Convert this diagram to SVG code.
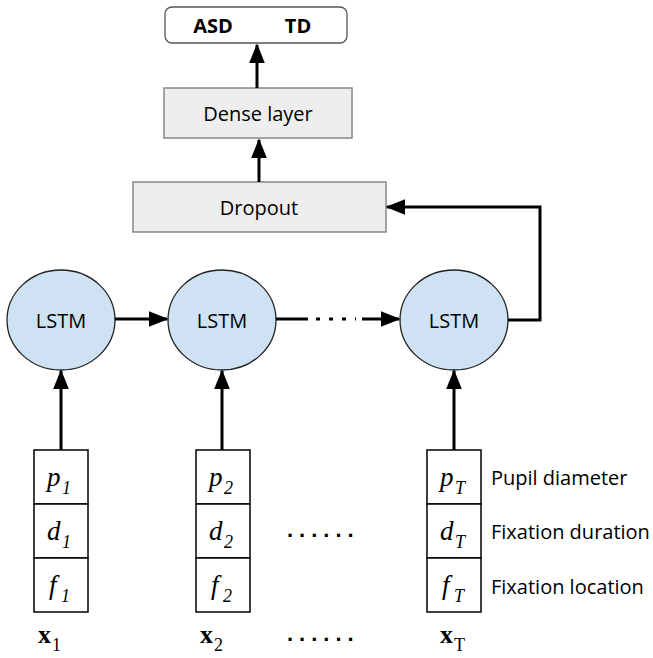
<svg xmlns="http://www.w3.org/2000/svg" width="653" height="658" viewBox="0 0 653 658">
<style>
.lbl{font-family:"Open Sans","Liberation Sans",sans-serif;font-size:20px;fill:#000}
.box{fill:#eeeeee;stroke:#888;stroke-width:1.5}
.lstm{fill:#cfe2f3;stroke:#222;stroke-width:1.3}
.cell{fill:#fff;stroke:#000;stroke-width:1.5}
.math{font-family:"Liberation Serif",serif;font-style:italic;font-size:27px}
.sub{font-family:"Liberation Serif",serif;font-style:italic;font-size:18px}
.xb{font-family:"Liberation Serif",serif;font-weight:bold;font-size:26px}
.xs{font-family:"Liberation Serif",serif;font-size:18px}
.conn{stroke:#000;stroke-width:3;fill:none}
.dots{font-family:"Liberation Sans",sans-serif;font-size:22px;font-weight:bold}
</style>
<defs>
<marker id="ah" markerWidth="7" markerHeight="6" refX="6" refY="3" orient="auto" markerUnits="strokeWidth">
<path d="M0,0.4 L6.5,3 L0,5.6 Z" fill="#000"/>
</marker>
</defs>
<g id="output">
<rect x="165" y="7" width="182" height="36" rx="7" fill="#fff" stroke="#555" stroke-width="1.3"/>
<text x="213" y="33" text-anchor="middle" class="lbl" font-weight="bold">ASD</text>
<text x="298" y="33" text-anchor="middle" class="lbl" font-weight="bold">TD</text>
</g>
<g id="dense">
<rect class="box" x="164" y="88" width="188" height="50"/>
<text x="258" y="121" text-anchor="middle" class="lbl">Dense layer</text>
</g>
<g id="dropout">
<rect class="box" x="133" y="182" width="253" height="50"/>
<text x="259" y="215" text-anchor="middle" class="lbl">Dropout</text>
</g>
<g id="lstm1"><ellipse class="lstm" cx="61" cy="320" rx="54" ry="50"/><text x="61" y="328" text-anchor="middle" class="lbl">LSTM</text></g>
<g id="lstm2"><ellipse class="lstm" cx="222" cy="320" rx="54" ry="50"/><text x="222" y="328" text-anchor="middle" class="lbl">LSTM</text></g>
<g id="lstm3"><ellipse class="lstm" cx="454" cy="320" rx="54" ry="50"/><text x="454" y="328" text-anchor="middle" class="lbl">LSTM</text></g>
<g id="x1">
<rect class="cell" x="34" y="450" width="54" height="54"/>
<rect class="cell" x="34" y="504" width="54" height="54"/>
<rect class="cell" x="34" y="558" width="54" height="54"/>
<text x="47" y="486" class="math">p</text><text x="62" y="494" class="sub">1</text>
<text x="47" y="540" class="math">d</text><text x="62" y="548" class="sub">1</text>
<text x="49" y="594" class="math">f</text><text x="61" y="602" class="sub">1</text>
<text x="38" y="643" class="xb">x</text><text x="52" y="651" class="xs">1</text>
</g>
<g id="x2">
<rect class="cell" x="196" y="450" width="54" height="54"/>
<rect class="cell" x="196" y="504" width="54" height="54"/>
<rect class="cell" x="196" y="558" width="54" height="54"/>
<text x="209" y="486" class="math">p</text><text x="224" y="494" class="sub">2</text>
<text x="209" y="540" class="math">d</text><text x="224" y="548" class="sub">2</text>
<text x="211" y="594" class="math">f</text><text x="223" y="602" class="sub">2</text>
<text x="200" y="643" class="xb">x</text><text x="214" y="651" class="xs">2</text>
</g>
<g id="xT">
<rect class="cell" x="427" y="450" width="54" height="54"/>
<rect class="cell" x="427" y="504" width="54" height="54"/>
<rect class="cell" x="427" y="558" width="54" height="54"/>
<text x="440" y="486" class="math">p</text><text x="455" y="494" class="sub">T</text>
<text x="440" y="540" class="math">d</text><text x="455" y="548" class="sub">T</text>
<text x="442" y="594" class="math">f</text><text x="454" y="602" class="sub">T</text>
<text x="440" y="643" class="xb">x</text><text x="454" y="651" class="xs">T</text>
</g>
<g id="legend">
<text x="491" y="485" class="lbl">Pupil diameter</text>
<text x="491" y="539" class="lbl">Fixation duration</text>
<text x="491" y="594" class="lbl">Fixation location</text>
</g>
<g id="ellipsis">
<text x="287" y="537" class="dots" letter-spacing="6">......</text>
<text x="287" y="641" class="dots" letter-spacing="6">......</text>
</g>
<g id="connectors">
<line class="conn" x1="257" y1="88" x2="257" y2="45" marker-end="url(#ah)"/>
<line class="conn" x1="259" y1="182" x2="259" y2="140" marker-end="url(#ah)"/>
<line class="conn" x1="115" y1="319" x2="167" y2="319" marker-end="url(#ah)"/>
<line class="conn" x1="276" y1="319" x2="308" y2="319"/>
<line class="conn" x1="316" y1="319" x2="356" y2="319" stroke-dasharray="4,9"/>
<line class="conn" x1="362" y1="319" x2="399" y2="319" marker-end="url(#ah)"/>
<polyline class="conn" points="508,320 540,320 540,207 387,207" marker-end="url(#ah)"/>
<line class="conn" x1="61" y1="450" x2="61" y2="371" marker-end="url(#ah)"/>
<line class="conn" x1="222" y1="450" x2="222" y2="371" marker-end="url(#ah)"/>
<line class="conn" x1="454" y1="450" x2="454" y2="371" marker-end="url(#ah)"/>
</g>
</svg>
